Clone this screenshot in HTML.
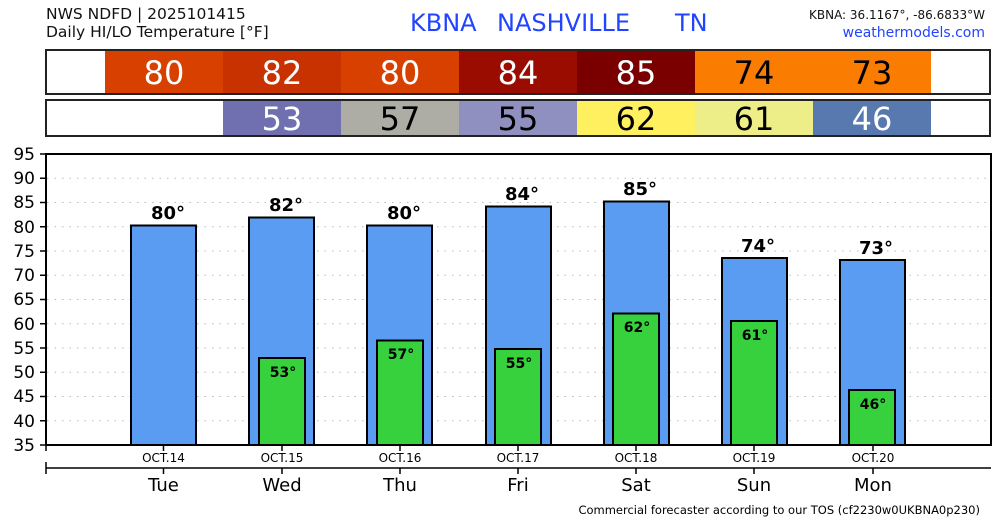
<!DOCTYPE html>
<html><head><meta charset="utf-8"><style>
body{margin:0;background:#fff;}
svg{display:block;font-family:"DejaVu Sans","Liberation Sans",sans-serif;}
</style></head><body>
<svg width="1000" height="520" viewBox="0 0 1000 520" xmlns="http://www.w3.org/2000/svg">
<text x="46" y="19" font-size="15.5" fill="#111">NWS NDFD | 2025101415</text>
<text x="46" y="37" font-size="15.5" fill="#111">Daily HI/LO Temperature [°F]</text>
<text x="410" y="31" font-size="24" fill="#2244ff">KBNA</text>
<text x="497" y="31" font-size="24" fill="#2244ff">NASHVILLE</text>
<text x="675" y="31" font-size="24" fill="#2244ff">TN</text>
<text x="985" y="19" font-size="12" fill="#111" text-anchor="end">KBNA: 36.1167°, -86.6833°W</text>
<text x="985" y="37" font-size="14" fill="#2244ff" text-anchor="end">weathermodels.com</text>
<rect x="46" y="50" width="944" height="44" fill="#fff"/>
<rect x="105" y="50" width="118" height="44" fill="#d84000"/>
<rect x="223" y="50" width="118" height="44" fill="#c83200"/>
<rect x="341" y="50" width="118" height="44" fill="#d84000"/>
<rect x="459" y="50" width="118" height="44" fill="#9a0c00"/>
<rect x="577" y="50" width="118" height="44" fill="#7a0000"/>
<rect x="695" y="50" width="236" height="44" fill="#fa7c00"/>
<rect x="46" y="50" width="944" height="44" fill="none" stroke="#222" stroke-width="2"/>
<g font-size="32" text-anchor="middle">
<text x="164" y="84" fill="#fff">80</text><text x="282" y="84" fill="#fff">82</text><text x="400" y="84" fill="#fff">80</text><text x="518" y="84" fill="#fff">84</text><text x="636" y="84" fill="#fff">85</text><text x="754" y="84" fill="#000">74</text><text x="872" y="84" fill="#000">73</text>
</g>
<rect x="46" y="100" width="944" height="36" fill="#fff"/>
<rect x="223" y="100" width="118" height="36" fill="#7070b0"/>
<rect x="341" y="100" width="118" height="36" fill="#adada5"/>
<rect x="459" y="100" width="118" height="36" fill="#9090c0"/>
<rect x="577" y="100" width="118" height="36" fill="#fff060"/>
<rect x="695" y="100" width="118" height="36" fill="#eeee88"/>
<rect x="813" y="100" width="118" height="36" fill="#5878b0"/>
<rect x="46" y="100" width="944" height="36" fill="none" stroke="#222" stroke-width="2"/>
<g font-size="32" text-anchor="middle">
<text x="282" y="130" fill="#fff">53</text><text x="400" y="130" fill="#000">57</text><text x="518" y="130" fill="#000">55</text><text x="636" y="130" fill="#000">62</text><text x="754" y="130" fill="#000">61</text><text x="872" y="130" fill="#fff">46</text>
</g>
<g stroke="#bbb" stroke-dasharray="1.5,6" stroke-width="1">
<line x1="47" x2="990" y1="420.75" y2="420.75"/><line x1="47" x2="990" y1="396.5" y2="396.5"/><line x1="47" x2="990" y1="372.25" y2="372.25"/><line x1="47" x2="990" y1="348" y2="348"/><line x1="47" x2="990" y1="323.75" y2="323.75"/><line x1="47" x2="990" y1="299.5" y2="299.5"/><line x1="47" x2="990" y1="275.25" y2="275.25"/><line x1="47" x2="990" y1="251" y2="251"/><line x1="47" x2="990" y1="226.75" y2="226.75"/><line x1="47" x2="990" y1="202.5" y2="202.5"/><line x1="47" x2="990" y1="178.25" y2="178.25"/>
</g>
<g font-size="17" text-anchor="end" fill="#000">
<text x="35" y="451">35</text><text x="35" y="427">40</text><text x="35" y="402">45</text><text x="35" y="378">50</text><text x="35" y="354">55</text><text x="35" y="330">60</text><text x="35" y="305">65</text><text x="35" y="281">70</text><text x="35" y="257">75</text><text x="35" y="233">80</text><text x="35" y="208">85</text><text x="35" y="184">90</text><text x="35" y="160">95</text>
</g>
<g stroke="#000" stroke-width="1.5">
<line x1="40" x2="46" y1="445" y2="445"/><line x1="40" x2="46" y1="420.75" y2="420.75"/><line x1="40" x2="46" y1="396.5" y2="396.5"/><line x1="40" x2="46" y1="372.25" y2="372.25"/><line x1="40" x2="46" y1="348" y2="348"/><line x1="40" x2="46" y1="323.75" y2="323.75"/><line x1="40" x2="46" y1="299.5" y2="299.5"/><line x1="40" x2="46" y1="275.25" y2="275.25"/><line x1="40" x2="46" y1="251" y2="251"/><line x1="40" x2="46" y1="226.75" y2="226.75"/><line x1="40" x2="46" y1="202.5" y2="202.5"/><line x1="40" x2="46" y1="178.25" y2="178.25"/><line x1="40" x2="46" y1="154" y2="154"/>
</g>
<g stroke="#000" stroke-width="2">
<rect x="131" y="225.5" width="65" height="219.5" fill="#5a9cf2"/>
<rect x="249" y="217.5" width="65" height="227.5" fill="#5a9cf2"/>
<rect x="367" y="225.5" width="65" height="219.5" fill="#5a9cf2"/>
<rect x="486" y="206.5" width="65" height="238.5" fill="#5a9cf2"/>
<rect x="604" y="201.5" width="65" height="243.5" fill="#5a9cf2"/>
<rect x="722" y="258" width="65" height="187" fill="#5a9cf2"/>
<rect x="840" y="260" width="65" height="185" fill="#5a9cf2"/>
<rect x="259" y="358" width="46" height="87" fill="#36d13c"/>
<rect x="377" y="340.5" width="46" height="104.5" fill="#36d13c"/>
<rect x="495" y="349" width="46" height="96" fill="#36d13c"/>
<rect x="613" y="313.5" width="46" height="131.5" fill="#36d13c"/>
<rect x="731" y="321" width="46" height="124" fill="#36d13c"/>
<rect x="849" y="390" width="46" height="55" fill="#36d13c"/>
</g>
<g font-size="18" font-weight="bold" text-anchor="middle" fill="#000">
<text x="168" y="219">80°</text><text x="286" y="211">82°</text><text x="404" y="219">80°</text><text x="522" y="200">84°</text><text x="640" y="195">85°</text><text x="758" y="252">74°</text><text x="876" y="254">73°</text>
</g>
<g font-size="14" font-weight="bold" text-anchor="middle" fill="#000">
<text x="283" y="377">53°</text><text x="401" y="359">57°</text><text x="519" y="368">55°</text><text x="637" y="332">62°</text><text x="755" y="340">61°</text><text x="873" y="409">46°</text>
</g>
<rect x="46" y="154" width="945" height="291" fill="none" stroke="#000" stroke-width="2"/>
<g stroke="#000" stroke-width="1.5">
<line x1="46" x2="46" y1="445" y2="451"/>
<line x1="163.5" x2="163.5" y1="445" y2="451"/><line x1="282" x2="282" y1="445" y2="451"/><line x1="400" x2="400" y1="445" y2="451"/><line x1="518" x2="518" y1="445" y2="451"/><line x1="636" x2="636" y1="445" y2="451"/><line x1="754" x2="754" y1="445" y2="451"/><line x1="873" x2="873" y1="445" y2="451"/>
<line x1="46" x2="991" y1="468" y2="468"/>
<line x1="46" x2="46" y1="462" y2="474"/>
<line x1="163.5" x2="163.5" y1="468" y2="474"/><line x1="282" x2="282" y1="468" y2="474"/><line x1="400" x2="400" y1="468" y2="474"/><line x1="518" x2="518" y1="468" y2="474"/><line x1="636" x2="636" y1="468" y2="474"/><line x1="754" x2="754" y1="468" y2="474"/><line x1="873" x2="873" y1="468" y2="474"/>
</g>
<g font-size="12" text-anchor="middle" fill="#000">
<text x="163.5" y="462">OCT.14</text><text x="282" y="462">OCT.15</text><text x="400" y="462">OCT.16</text><text x="518" y="462">OCT.17</text><text x="636" y="462">OCT.18</text><text x="754" y="462">OCT.19</text><text x="873" y="462">OCT.20</text>
</g>
<g font-size="18" text-anchor="middle" fill="#000">
<text x="163.5" y="491">Tue</text><text x="282" y="491">Wed</text><text x="400" y="491">Thu</text><text x="518" y="491">Fri</text><text x="636" y="491">Sat</text><text x="754" y="491">Sun</text><text x="873" y="491">Mon</text>
</g>
<text x="980" y="514" font-size="11.5" text-anchor="end" fill="#000">Commercial forecaster according to our TOS (cf2230w0UKBNA0p230)</text>
</svg>
</body></html>
